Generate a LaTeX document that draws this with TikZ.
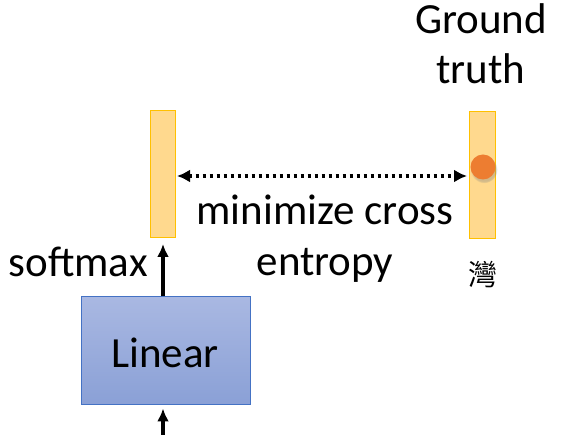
\documentclass[tikz,border=0pt]{standalone}
\usepackage{fontspec}
\setmainfont{Carlito}
\newfontfamily\cjkfont{Noto Sans CJK TC}
\usetikzlibrary{arrows.meta,shadows}
\definecolor{barfill}{HTML}{FFD98E}
\definecolor{barline}{HTML}{FFC000}
\definecolor{dotorange}{HTML}{ED7D31}
\definecolor{boxtop}{HTML}{A9B8E2}
\definecolor{boxbot}{HTML}{8AA0D6}
\definecolor{boxline}{HTML}{4472C4}
\tikzset{
  bar/.style={draw=barline, fill=barfill, line width=1pt},
  lbl/.style={font=\fontsize{43}{51}\selectfont, inner sep=0pt, anchor=base},
  thickarrow/.style={-{Latex[length=13pt,width=12pt]}, line width=4pt},
}
\begin{document}
\begin{tikzpicture}[x=1pt,y=-1pt]
\useasboundingbox (0,0) rectangle (576,435);
% bars
\draw[bar] (150,111) rectangle (175,238);
\coordinate (lbarE) at (175,176);
\draw[bar] (469,112) rectangle (495,239);
\coordinate (rbarW) at (469,176);
% dot
\node[circle, fill=dotorange, minimum size=25pt, inner sep=0pt,
  circular drop shadow={shadow xshift=1pt, shadow yshift=-2.5pt, shadow scale=1.08, opacity=0.35}] (dot) at (483,167) {};
% dotted arrow
\draw[{Latex[length=13pt,width=13pt]}-{Latex[length=13pt,width=13pt]}, line width=3.5pt, dash pattern=on 3.5pt off 3.5pt] (lbarE) ++(2,0) -- ([xshift=-2pt]rbarW);
% labels
\node[lbl] (mc) at (325,225) {minimize cross};
\node[lbl] (en) at (325,276) {entropy};
\node[lbl, anchor=base east] (sm) at (148,277) {softmax};
\node[lbl] (g1) at (481,34) {Ground};
\node[lbl] (g2) at (481,84) {truth};
\node[inner sep=0pt, font=\cjkfont\fontsize{29}{32}\selectfont] (wan) at (483,275) {灣};
% linear box
\node[draw=boxline, line width=1pt, top color=boxtop, bottom color=boxbot, minimum width=169pt, minimum height=108pt, inner sep=0pt] (lin) at (165.5,351) {};
\node[lbl] (lintext) at (165,368) {Linear};
\coordinate (smtip) at (163,244);
\coordinate (inbot) at (163,435);
\draw[thickarrow] (lin.north -| smtip) -- (smtip);
\draw[thickarrow] (inbot) -- ([yshift=-3pt]lin.south -| inbot);
\end{tikzpicture}
\end{document}
